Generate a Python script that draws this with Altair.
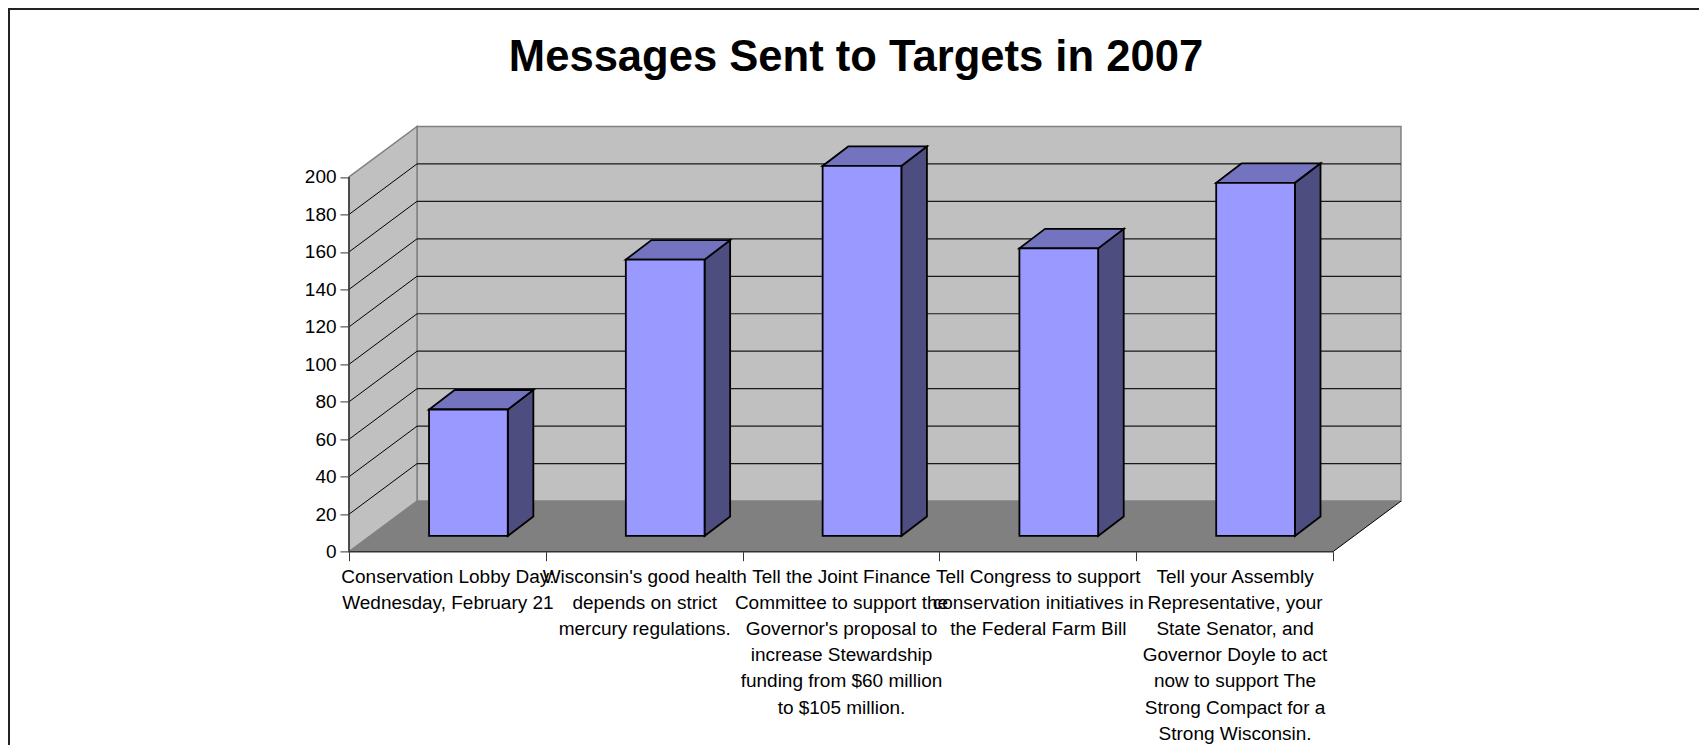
import json
import altair as alt
import pandas as pd

# ---- values ----
categories = [
    ["Conservation Lobby Day:", "Wednesday, February 21"],
    ["Wisconsin's good health", "depends on strict", "mercury regulations."],
    ["Tell the Joint Finance", "Committee to support the", "Governor's proposal to",
     "increase Stewardship", "funding from $60 million", "to $105 million."],
    ["Tell Congress to support", "conservation initiatives in", "the Federal Farm Bill"],
    ["Tell your Assembly", "Representative, your", "State Senator, and", "Governor Doyle to act",
     "now to support The", "Strong Compact for a", "Strong Wisconsin."],
]
messages = [67.5, 147.5, 197.5, 153.5, 188.5]
y_ticks = [0, 20, 40, 60, 80, 100, 120, 140, 160, 180, 200]
title_text = "Messages Sent to Targets in 2007"

# oblique 3-D frame, in axis units
WALL_DX, WALL_DY = 0.3457, 27.0
BAR_OFFSET_X, BAR_OFFSET_Y = 0.4067, 8.4
BAR_W, BAR_DX, BAR_DY = 0.40, 0.13, 10.4
N = len(categories)
Y_MAX = 200 + WALL_DY
X_MAX = N + WALL_DX

x_scale = alt.Scale(domain=[0, X_MAX], nice=False, zero=False)
y_scale = alt.Scale(domain=[0, Y_MAX], nice=False, zero=False)

x_tick_values = [i / 2 for i in range(2 * N + 1)]
label_expr = (
    f"datum.value % 1 == 0 ? '' : {json.dumps(categories)}[floor(datum.value)]"
)
x_axis = alt.Axis(
    values=x_tick_values, labelExpr=label_expr, domain=False, grid=False, title=None,
    tickSize=9, tickColor="#333333", tickWidth=1,
    tickOpacity={"condition": {"test": "datum.value % 1 == 0", "value": 1}, "value": 0},
    labelFont="Liberation Sans", labelFontSize=19, labelColor="#000000",
    labelLineHeight=26.2, labelPadding=6.5, labelOverlap=False, labelBound=False,
    labelFlush=False, labelAngle=0, labelBaseline="top", labelLimit=0,
)
y_axis = alt.Axis(
    values=y_ticks, domain=False, grid=False, format="d", title=None,
    tickSize=9, tickColor="#333333", tickWidth=1,
    labelFont="Liberation Sans", labelFontSize=19, labelColor="#000000",
    labelPadding=4, labelOverlap=False, labelBound=False, labelFlush=False,
)

X = lambda f="x": alt.X(f"{f}:Q", scale=x_scale, axis=x_axis)
Y = lambda f="y": alt.Y(f"{f}:Q", scale=y_scale, axis=y_axis)
X2 = lambda f="x2": alt.X2(f"{f}:Q")
Y2 = lambda f="y2": alt.Y2(f"{f}:Q")

# ---- walls and floor ----
back = alt.Chart(pd.DataFrame([dict(x=WALL_DX, x2=X_MAX, y=WALL_DY, y2=Y_MAX)])).mark_rect(
    fill="#C0C0C0", stroke="#808080", strokeWidth=1.5
).encode(x=X(), x2=X2(), y=Y(), y2=Y2())

left = alt.Chart(pd.DataFrame([
    dict(x=0, y=0, y2=200), dict(x=WALL_DX, y=WALL_DY, y2=Y_MAX)
])).mark_area(fill="#C0C0C0", stroke="#808080", strokeWidth=1.5).encode(x=X(), y=Y(), y2=Y2())

floor = alt.Chart(pd.DataFrame([
    dict(y=0, x=0, x2=N), dict(y=WALL_DY, x=WALL_DX, x2=X_MAX)
])).mark_area(orient="horizontal", fill="#808080").encode(y=Y(), x=X(), x2=X2())

grid_values = [v for v in y_ticks if 0 < v < 200]
back_grid = alt.Chart(pd.DataFrame({
    "x": WALL_DX, "x2": X_MAX, "y": [v + WALL_DY for v in grid_values]
})).mark_rule(color="#1a1a1a", strokeWidth=1.2).encode(x=X(), x2=X2(), y=Y())

side_grid = alt.Chart(pd.DataFrame({
    "x": 0.0, "x2": WALL_DX, "y": grid_values, "y2": [v + WALL_DY for v in grid_values]
})).mark_rule(color="#000000", strokeWidth=1).encode(x=X(), x2=X2(), y=Y(), y2=Y2())

right_edge = alt.Chart(pd.DataFrame([dict(x=N, x2=X_MAX, y=0, y2=WALL_DY)])).mark_rule(
    color="#000000", strokeWidth=1
).encode(x=X(), x2=X2(), y=Y(), y2=Y2())

front_edge = alt.Chart(pd.DataFrame([dict(x=0, x2=N, y=0)])).mark_rule(
    color="#333333", strokeWidth=1.5
).encode(x=X(), x2=X2(), y=Y())
left_edge = alt.Chart(pd.DataFrame([dict(x=0, y=0, y2=200)])).mark_rule(
    color="#333333", strokeWidth=1.5
).encode(x=X(), y=Y(), y2=Y2())

# ---- bars ----
front_rows, side_rows, top_rows = [], [], []
for i, v in enumerate(messages):
    x0 = i + BAR_OFFSET_X
    x1 = x0 + BAR_W
    base = BAR_OFFSET_Y
    top = v + BAR_OFFSET_Y
    front_rows.append(dict(bar=i, x=x0, x2=x1, y=base, y2=top))
    side_rows += [dict(bar=i, x=x1, y=base, y2=top),
                  dict(bar=i, x=x1 + BAR_DX, y=base + BAR_DY, y2=top + BAR_DY)]
    top_rows += [dict(bar=i, y=top, x=x0, x2=x1),
                 dict(bar=i, y=top + BAR_DY, x=x0 + BAR_DX, x2=x1 + BAR_DX)]

bar_side = alt.Chart(pd.DataFrame(side_rows)).mark_area(
    fill="#4D4D80", stroke="#000000", strokeWidth=1.8
).encode(x=X(), y=Y(), y2=Y2(), detail="bar:N")
bar_top = alt.Chart(pd.DataFrame(top_rows)).mark_area(
    orient="horizontal", fill="#7373BF", stroke="#000000", strokeWidth=1.8
).encode(y=Y(), x=X(), x2=X2(), detail="bar:N")
bar_front = alt.Chart(pd.DataFrame(front_rows)).mark_rect(
    fill="#9999FF", stroke="#000000", strokeWidth=1.8
).encode(x=X(), x2=X2(), y=Y(), y2=Y2())

# ---- page frame along the top and left ----
frame = alt.Chart(pd.DataFrame({"a": [0]}))
frame_top = frame.mark_rule(color="#222222", strokeWidth=2).encode(
    x=alt.value(-341), x2=alt.value(1350), y=alt.value(-117.5))
frame_left = frame.mark_rule(color="#222222", strokeWidth=2).encode(
    x=alt.value(-340), y=alt.value(-118), y2=alt.value(619))

chart = alt.layer(
    back, left, floor, back_grid, side_grid, right_edge, front_edge, left_edge,
    bar_side, bar_top, bar_front, frame_top, frame_left,
).properties(
    width=1052,
    height=425.3,
    padding={"left": 341, "top": 118.4, "right": 298, "bottom": 193},
    autosize=alt.AutoSizeParams(type="none"),
    title=alt.TitleParams(
        title_text, font="Liberation Sans", fontSize=43.6, fontWeight="bold", color="#000000",
        anchor="middle", dx=-19, offset=0, dy=107.5, baseline="alphabetic",
    ),
).configure_view(stroke=None)

chart.save("out.html", embed_options={"renderer": "svg", "actions": False})
